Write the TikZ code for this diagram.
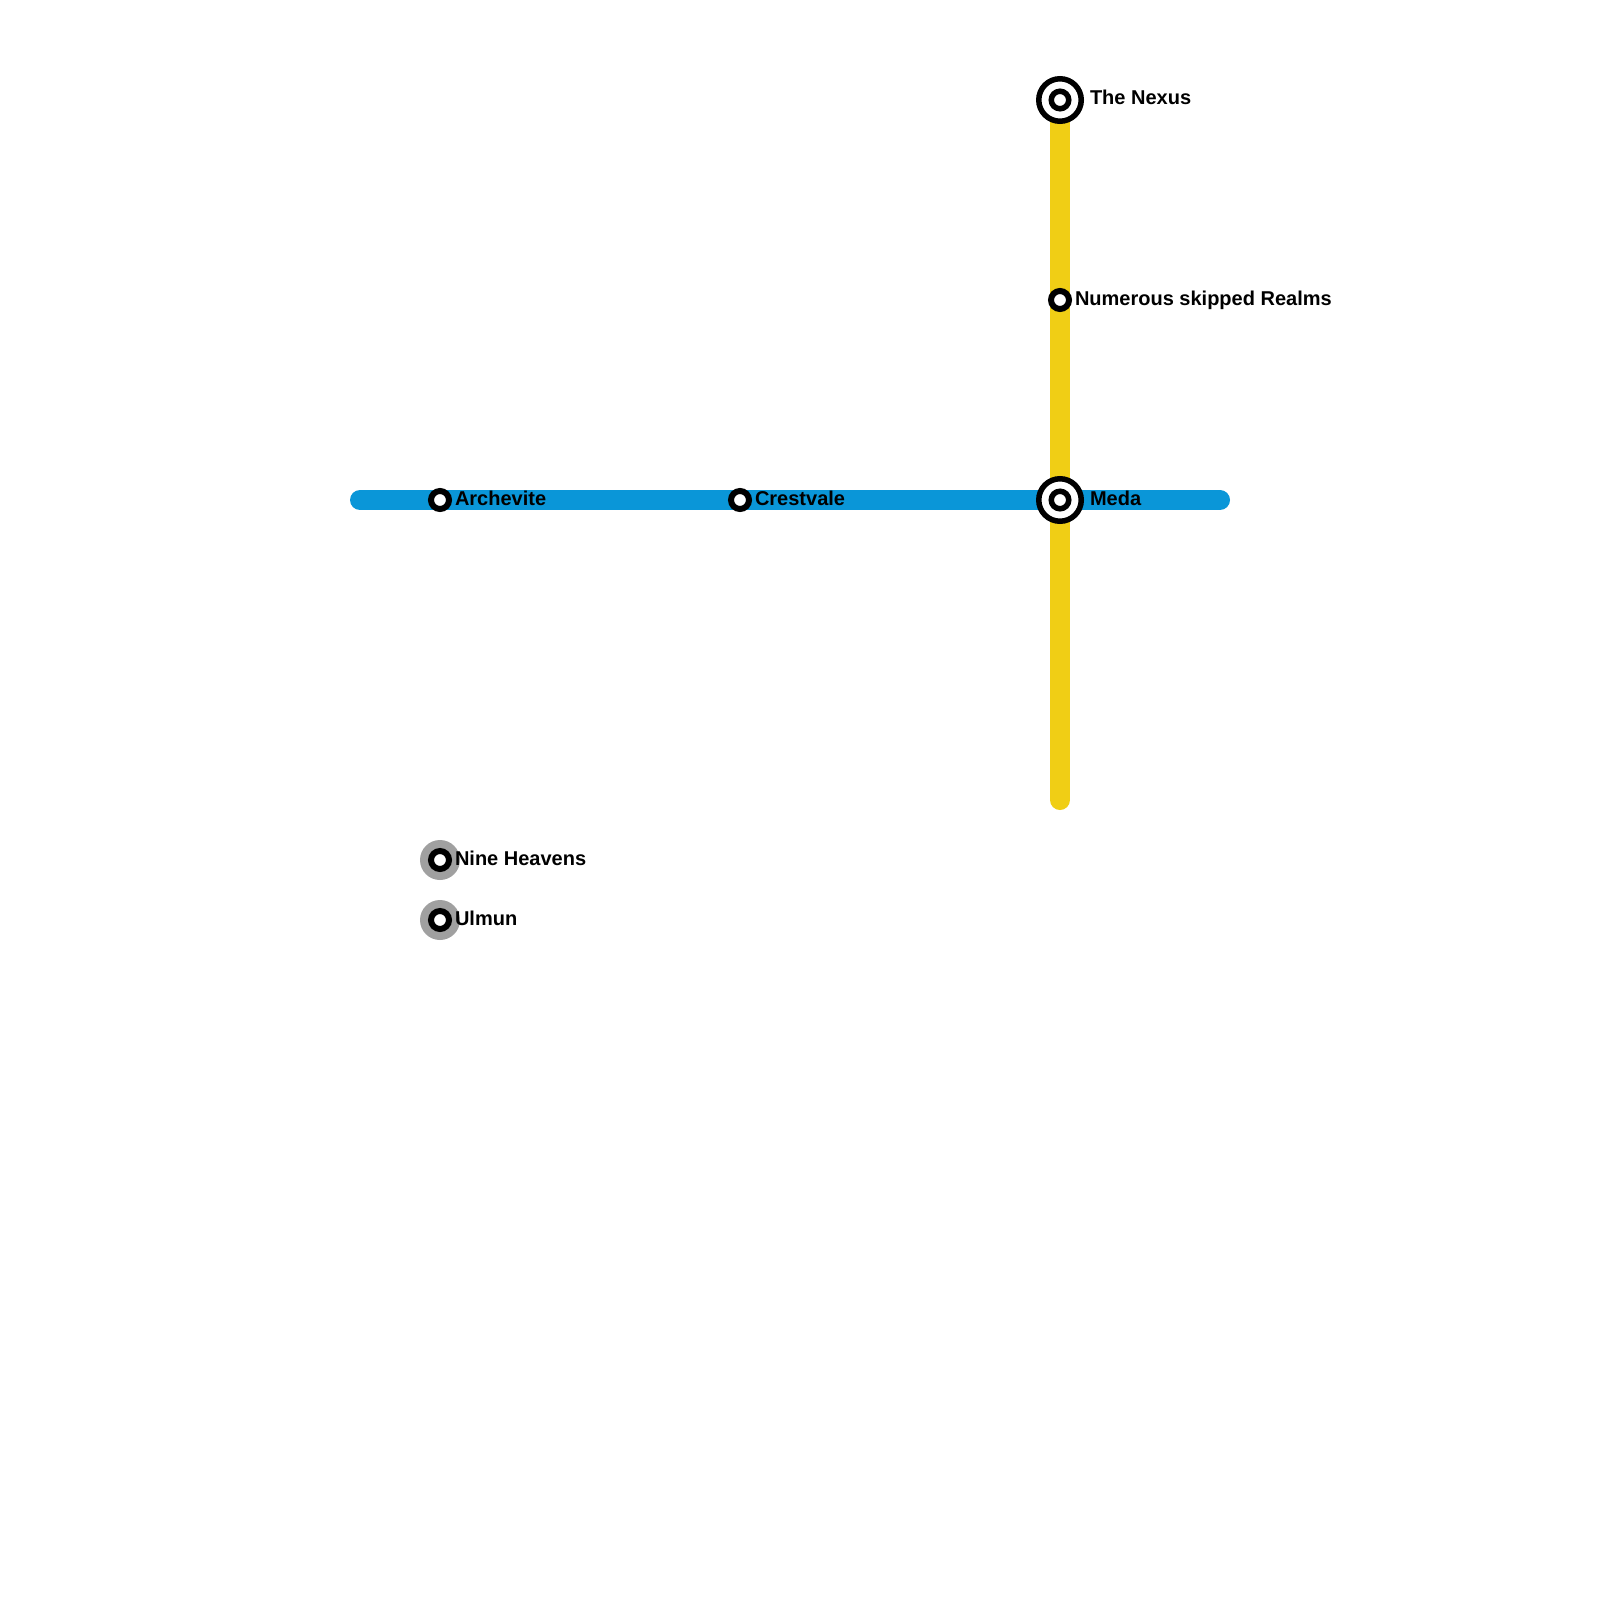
\documentclass[tikz,border=0pt]{standalone}
\usepackage{fontspec}
\setmainfont{Liberation Sans}
\definecolor{lineblue}{HTML}{0A96D8}
\definecolor{lineyellow}{HTML}{F0CE15}
\definecolor{grayhalo}{HTML}{A0A0A0}
\tikzset{
  metroline/.style={line width=20pt,line cap=round},
  ring/.style={circle,draw=black,fill=white,line width=6pt,minimum size=18pt,inner sep=0pt,outer sep=0pt},
  bigring/.style={circle,draw=black,fill=white,line width=5.5pt,minimum size=42.5pt,inner sep=0pt,outer sep=0pt},
  corering/.style={circle,draw=black,fill=white,line width=5.5pt,minimum size=17.5pt,inner sep=0pt,outer sep=0pt},
  halo/.style={circle,fill=grayhalo,minimum size=40pt,inner sep=0pt,outer sep=0pt},
  stationlabel/.style={anchor=base west,inner sep=0pt,outer sep=0pt,text=black,font=\fontsize{20}{24}\selectfont\bfseries},
}
\begin{document}
\begin{tikzpicture}[x=1pt,y=-1pt]
\useasboundingbox (0,0) rectangle (1600,1600);
\fill[white] (0,0) rectangle (1600,1600);
% line ends
\coordinate (blueW) at (360,500);
\coordinate (blueE) at (1220,500);
\coordinate (yellowN) at (1060,100);
\coordinate (yellowS) at (1060,800);
% lines
\draw[metroline,lineyellow] (yellowN) -- (yellowS);
\draw[metroline,lineblue] (blueW) -- (blueE);
% interchange stations
\node[bigring] (nexusO) at (1060,100) {};
\node[corering] (nexus) at (1060,100) {};
\node[bigring] (medaO) at (1060,500) {};
\node[corering] (meda) at (1060,500) {};
% plain stations
\node[ring] (realms) at (1060,300) {};
\node[ring] (archevite) at (440,500) {};
\node[ring] (crestvale) at (740,500) {};
% isolated stations
\node[halo] (nineH) at (440,860) {};
\node[ring] (nine) at (440,860) {};
\node[halo] (ulmunH) at (440,920) {};
\node[ring] (ulmun) at (440,920) {};
% labels
\node[stationlabel] (lNexus) at (1090,105) {The Nexus};
\node[stationlabel] (lRealms) at (1075,305) {Numerous skipped Realms};
\node[stationlabel] (lMeda) at (1090,505) {Meda};
\node[stationlabel] (lArch) at (455,505) {Archevite};
\node[stationlabel] (lCrest) at (755,505) {Crestvale};
\node[stationlabel] (lNine) at (455,865) {Nine Heavens};
\node[stationlabel] (lUlmun) at (455,925) {Ulmun};
\end{tikzpicture}
\end{document}
